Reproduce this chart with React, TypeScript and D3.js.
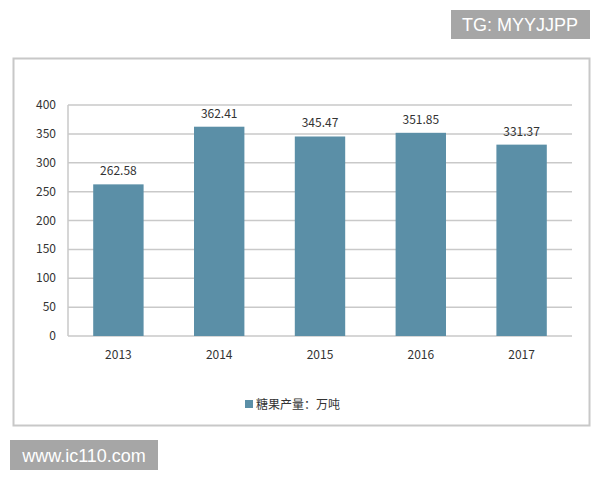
import React from "react";
import * as d3 from "d3";

const years = ["2013", "2014", "2015", "2016", "2017"];
const output = [262.58, 362.41, 345.47, 351.85, 331.37];
const yTicks = [0, 50, 100, 150, 200, 250, 300, 350, 400];
const legendLabel = "糖果产量：万吨";

export default function App() {
  const W = 600, H = 480;
  const x = d3.scaleBand<string>().domain(years).range([68, 572]).paddingInner(0.5).paddingOuter(0.25);
  const y = d3.scaleLinear().domain([0, 400]).range([336, 105]);
  const barColor = "#5b8fa7";
  const font = "'Microsoft YaHei', 'Noto Sans CJK SC', 'DejaVu Sans', sans-serif";
  return (
    <svg width={W} height={H} style={{ position: "absolute", left: 0, top: 0, background: "#fff" }} fontFamily={font}>
      <rect x={0} y={0} width={W} height={H} fill="#fff" />
      <rect x={451} y={10} width={139} height={29} fill="#a6a6a6" />
      <text x={520} y={31} textAnchor="middle" fontSize={18} fill="#fff" fontFamily="Arial, 'Liberation Sans', sans-serif">TG: MYYJJPP</text>
      <rect x={13.5} y={58.5} width={576} height={367} fill="#fff" stroke="#c8c8c8" strokeWidth={2} />
      {yTicks.map((t) => (
        <g key={t}>
          <line x1={68} x2={572} y1={y(t)} y2={y(t)} stroke="#c9c9c9" strokeWidth={1.5} />
          <text x={56} y={y(t) + 4} textAnchor="end" fontSize={12} fill="#333">{t}</text>
        </g>
      ))}
      <line x1={68} x2={68} y1={y(400)} y2={y(0)} stroke="#c9c9c9" strokeWidth={1.5} />
      {years.map((yr, i) => (
        <g key={yr}>
          <rect x={x(yr)!} y={y(output[i])} width={x.bandwidth()} height={y(0) - y(output[i])} fill={barColor} />
          <text x={x(yr)! + x.bandwidth() / 2} y={y(output[i]) - 9} textAnchor="middle" fontSize={12} fill="#333">{output[i].toFixed(2)}</text>
          <text x={x(yr)! + x.bandwidth() / 2} y={359} textAnchor="middle" fontSize={12} fill="#333">{yr}</text>
        </g>
      ))}
      <rect x={245} y={400} width={8} height={8} fill={barColor} />
      <text x={256} y={409} fontSize={12} fill="#333">{legendLabel}</text>
      <rect x={10} y={440} width={148} height={30} fill="#a6a6a6" />
      <text x={84} y={462} textAnchor="middle" fontSize={18} fill="#fff" fontFamily="Arial, 'Liberation Sans', sans-serif">www.ic110.com</text>
    </svg>
  );
}
